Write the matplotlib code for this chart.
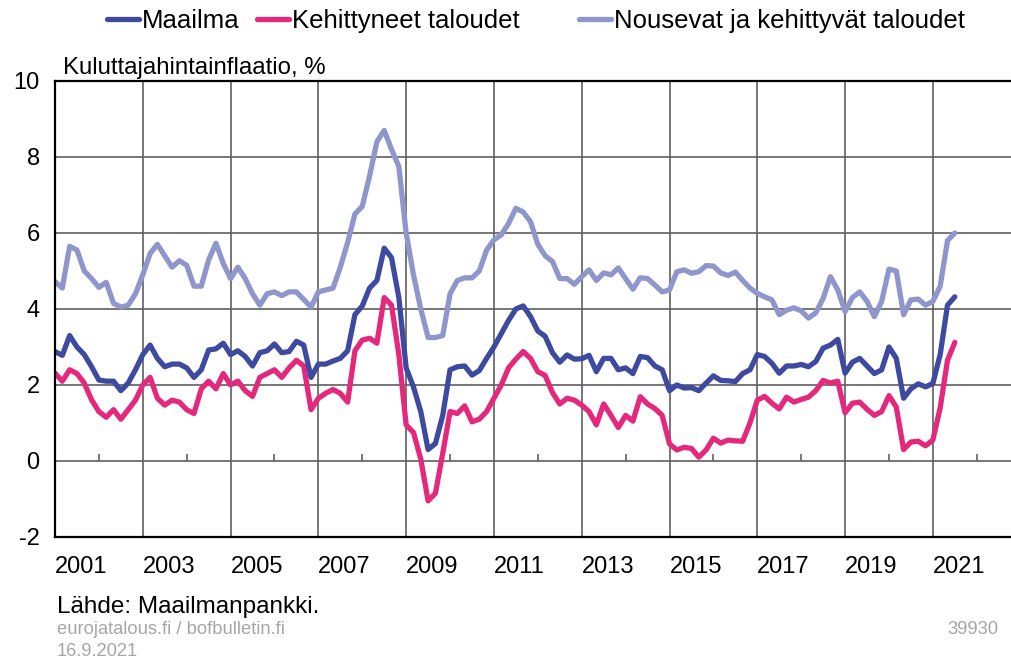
#!/usr/bin/env python3
"""Kuluttajahintainflaatio: maailma, kehittyneet ja nousevat taloudet."""

import numpy as np
import matplotlib
matplotlib.use("Agg")
import matplotlib.pyplot as plt

plt.rcParams["font.family"] = ["Liberation Sans", "DejaVu Sans"]
plt.rcParams["axes.unicode_minus"] = False

# ---------------------------------------------------------------------------
# Data: bi-monthly readings, Jan 2001 .. Jul 2021 (%, y/y)
# ---------------------------------------------------------------------------

START_YEAR = 2001
STEP = 1 / 6  # two months

maailma = [
    2.88, 2.78, 3.3, 3.0, 2.8, 2.48,        # 2001
    2.13, 2.1, 2.1, 1.85, 2.05, 2.4,        # 2002
    2.8, 3.05, 2.7, 2.48, 2.55, 2.55,       # 2003
    2.45, 2.2, 2.4, 2.92, 2.95, 3.1,        # 2004
    2.8, 2.9, 2.75, 2.5, 2.85, 2.9,         # 2005
    3.08, 2.85, 2.88, 3.15, 3.05, 2.2,      # 2006
    2.55, 2.55, 2.63, 2.7, 2.9, 3.85,       # 2007
    4.08, 4.55, 4.75, 5.6, 5.35, 4.3,       # 2008
    2.45, 1.95, 1.3, 0.3, 0.46, 1.2,        # 2009
    2.4, 2.48, 2.5, 2.26, 2.38, 2.7,        # 2010
    3.0, 3.35, 3.7, 4.0, 4.08, 3.8,         # 2011
    3.42, 3.28, 2.85, 2.6, 2.79, 2.68,      # 2012
    2.69, 2.78, 2.35, 2.7, 2.7, 2.4,        # 2013
    2.45, 2.3, 2.75, 2.72, 2.5, 2.4,        # 2014
    1.85, 2.0, 1.92, 1.93, 1.85, 2.05,      # 2015
    2.24, 2.12, 2.11, 2.09, 2.3, 2.4,       # 2016
    2.8, 2.75, 2.57, 2.31, 2.5, 2.5,        # 2017
    2.54, 2.48, 2.62, 2.97, 3.05, 3.2,      # 2018
    2.31, 2.6, 2.7, 2.5, 2.3, 2.4,          # 2019
    3.0, 2.7, 1.65, 1.9, 2.03, 1.95,        # 2020
    2.04, 2.8, 4.1, 4.32,                   # 2021
]

kehittyneet = [
    2.31, 2.1, 2.4, 2.3, 2.05, 1.61,
    1.3, 1.15, 1.35, 1.1, 1.35, 1.6,
    2.0, 2.2, 1.65, 1.47, 1.6, 1.55,
    1.35, 1.25, 1.9, 2.1, 1.9, 2.3,
    2.0, 2.1, 1.85, 1.7, 2.2, 2.3,
    2.4, 2.2, 2.45, 2.65, 2.5, 1.35,
    1.65, 1.78, 1.88, 1.78, 1.55, 2.9,
    3.18, 3.23, 3.1, 4.3, 4.1, 2.8,
    0.95, 0.75, 0.05, -1.05, -0.85, 0.2,
    1.3, 1.25, 1.45, 1.03, 1.1, 1.3,
    1.65, 2.0, 2.45, 2.68, 2.88, 2.7,
    2.35, 2.25, 1.8, 1.5, 1.65, 1.6,
    1.47, 1.3, 0.95, 1.5, 1.2, 0.88,
    1.2, 1.05, 1.69, 1.5, 1.38, 1.2,
    0.45, 0.29, 0.36, 0.33, 0.1, 0.29,
    0.6, 0.47, 0.55, 0.53, 0.52, 1.0,
    1.6, 1.7, 1.52, 1.37, 1.68, 1.55,
    1.62, 1.68, 1.85, 2.12, 2.05, 2.1,
    1.27, 1.52, 1.55, 1.36, 1.2, 1.3,
    1.72, 1.42, 0.3, 0.5, 0.52, 0.4,
    0.55, 1.4, 2.65, 3.12,
]

nousevat = [
    4.72, 4.55, 5.65, 5.55, 5.0, 4.8,
    4.57, 4.7, 4.15, 4.05, 4.1, 4.4,
    4.9, 5.46, 5.7, 5.4, 5.1, 5.27,
    5.15, 4.6, 4.6, 5.29, 5.73, 5.2,
    4.8, 5.1, 4.8, 4.4, 4.1, 4.4,
    4.45, 4.35, 4.45, 4.45, 4.25, 4.05,
    4.45, 4.5, 4.55, 5.1, 5.75, 6.5,
    6.7, 7.5, 8.4, 8.7, 8.2, 7.75,
    6.0, 4.9, 4.0, 3.25, 3.25, 3.3,
    4.4, 4.75, 4.82, 4.82, 5.0, 5.55,
    5.82, 5.95, 6.25, 6.65, 6.55, 6.3,
    5.7, 5.4, 5.25, 4.8, 4.8, 4.65,
    4.85, 5.03, 4.75, 4.95, 4.9, 5.08,
    4.8, 4.52, 4.82, 4.8, 4.63, 4.45,
    4.5, 4.98, 5.03, 4.94, 4.98, 5.14,
    5.13, 4.95, 4.88, 4.97, 4.75, 4.55,
    4.41, 4.32, 4.24, 3.85, 3.97, 4.03,
    3.95, 3.76, 3.9, 4.28, 4.85, 4.5,
    3.93, 4.3, 4.45, 4.2, 3.8, 4.2,
    5.05, 5.0, 3.85, 4.24, 4.26, 4.1,
    4.2, 4.6, 5.8, 6.0,
]

SERIES = [
    ("Maailma", maailma, "#3d4a9f"),
    ("Kehittyneet taloudet", kehittyneet, "#e4287c"),
    ("Nousevat ja kehittyvät taloudet", nousevat, "#8f96cb"),
]

# left edge of each legend entry, in figure pixels
LEGEND_X = [107, 257, 579]

YEAR_LABELS = list(range(2001, 2022, 2))
Y_TICKS = list(range(-2, 11, 2))


def main():
    dates = START_YEAR + np.arange(len(maailma)) * STEP

    fig = plt.figure(figsize=(10.11, 6.6), dpi=100)
    ax = fig.add_axes([0.0544, 0.1864, 0.9456, 0.6909])

    # draw light series first so the darker ones sit on top
    lines = {}
    for label, vals, color in reversed(SERIES):
        (ln,) = ax.plot(dates, vals, color=color, linewidth=3.8, label=label,
                        solid_joinstyle="round", solid_capstyle="round")
        lines[label] = ln

    ax.set_xlim(2001, 2022.78)
    ax.set_ylim(-2, 10)

    ax.set_xticks(YEAR_LABELS)
    ax.set_xticklabels([str(y) for y in YEAR_LABELS], ha="left")
    ax.set_yticks(Y_TICKS)
    ax.tick_params(axis="x", length=0, labelsize=17, pad=14)
    ax.tick_params(axis="y", length=0, labelsize=17, pad=11)

    ax.grid(True, color="#5f5f5f", linewidth=1.2)
    ax.set_axisbelow(True)
    for side in ["left", "top", "bottom"]:
        ax.spines[side].set_linewidth(1.6)
        ax.spines[side].set_color("black")
    ax.spines["right"].set_visible(False)

    # small year ticks on the zero line
    zero_pos = (0 - Y_TICKS[0]) / (Y_TICKS[-1] - Y_TICKS[0])
    sec = ax.secondary_xaxis(zero_pos)
    sec.set_xticks(range(2002, 2023, 2))
    sec.tick_params(direction="in", length=5, width=1.1, color="#555555",
                    labelbottom=False)
    sec.spines["bottom"].set_visible(False)

    # one legend per entry so the spacing follows the original
    for (label, _, _), x in zip(SERIES, LEGEND_X):
        fig.legend([lines[label]], [label], loc="upper left",
                   bbox_to_anchor=(x / 1011, 1 - 9 / 660), frameon=False,
                   fontsize=18.5, handlelength=1.25, handletextpad=0.1,
                   borderpad=0, borderaxespad=0)

    fig.text(63 / 1011, 1 - 74 / 660, "Kuluttajahintainflaatio, %",
             fontsize=17.3, va="baseline", ha="left")
    fig.text(57 / 1011, 1 - 613 / 660, "Lähde: Maailmanpankki.",
             fontsize=17.5, va="baseline", ha="left")
    fig.text(57 / 1011, 1 - 634 / 660, "eurojatalous.fi / bofbulletin.fi",
             fontsize=13.2, va="baseline", ha="left", color="#a6a6a6")
    fig.text(57 / 1011, 1 - 656 / 660, "16.9.2021",
             fontsize=13.2, va="baseline", ha="left", color="#a6a6a6")
    fig.text(998 / 1011, 1 - 634 / 660, "39930",
             fontsize=13.2, va="baseline", ha="right", color="#a6a6a6")

    fig.savefig("out.png", dpi=100)
    plt.close(fig)


if __name__ == "__main__":
    main()
